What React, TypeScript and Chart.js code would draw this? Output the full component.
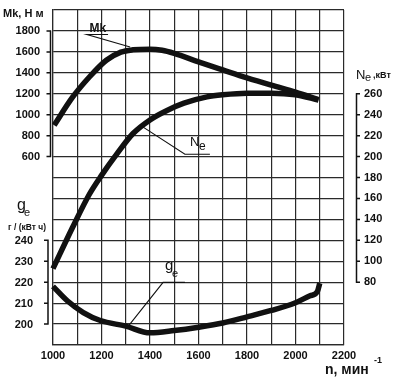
import React, { useEffect, useRef } from 'react';
import { Chart, registerables } from 'chart.js';

Chart.register(...registerables);

// ---- data ----
const rpmMk = [1005, 1080, 1150, 1220, 1280, 1330, 1400, 1450, 1500, 1600, 1700, 1800, 1900, 2000, 2095];
const torqueMk = [900, 1165, 1360, 1520, 1598, 1620, 1626, 1615, 1585, 1505, 1428, 1352, 1282, 1215, 1145];

const rpmNe = [1000, 1080, 1150, 1200, 1265, 1330, 1400, 1470, 1540, 1635, 1700, 1800, 1900, 2000, 2095];
const powerNe = [93, 132, 164, 182, 203, 222, 235, 244, 251, 257, 259, 260.5, 260.5, 259, 254];

const rpmGe = [1000, 1060, 1125, 1195, 1300, 1400, 1500, 1600, 1700, 1800, 1900, 2000, 2060, 2090, 2100];
const fuelGe = [218, 211, 205.5, 201.7, 199, 195.8, 196.9, 198.5, 200.5, 203.4, 206.5, 210.2, 213.5, 215.5, 219.5];

const xTickLabels = [1000, 1200, 1400, 1600, 1800, 2000, 2200];
const mkTickLabels = [600, 800, 1000, 1200, 1400, 1600, 1800];
const neTickLabels = [80, 100, 120, 140, 160, 180, 200, 220, 240, 260];
const geTickLabels = [200, 210, 220, 230, 240];

// curve name annotations, in data units: [rpm, value]
const mkLabelAt = [1185, 1789];
const mkUnderline = [[1140, 1766], [1227, 1766]];
const mkLeaderEnd = [1318, 1646];

const neLabelAt = [1565, 209.8];
const neSubAt = [1602, 206];
const neUnderline = [[1544, 202.2], [1647, 202.2]];
const neLeaderEnd = [1359, 230];

const geLabelAt = [1462, 225.6];
const geSubAt = [1491, 222.7];
const geUnderline = [[1454, 219.9], [1544, 219.9]];
const geLeaderEnd = [1309, 198.8];

const INK = '#111';
const GRID = '#2a2a2a';
const FONT = '"Liberation Sans", Arial, sans-serif';

const noPad = (s: any) => {
  s.paddingTop = 0;
  s.paddingBottom = 0;
  s.paddingLeft = 0;
  s.paddingRight = 0;
};

const decor = {
  id: 'decor',
  afterDraw(chart: any) {
    const ctx = chart.ctx as CanvasRenderingContext2D;
    const { x, yMk, yNe, yGe } = chart.scales;
    const area = chart.chartArea;
    ctx.save();
    ctx.strokeStyle = INK;
    ctx.fillStyle = INK;
    ctx.lineWidth = 1.5;

    // Mk bracket (left)
    const mkX = area.left - 2.5;
    ctx.beginPath();
    ctx.moveTo(mkX, yMk.getPixelForValue(mkTickLabels[mkTickLabels.length - 1]));
    ctx.lineTo(mkX, yMk.getPixelForValue(mkTickLabels[0]));
    mkTickLabels.forEach((v) => {
      const py = yMk.getPixelForValue(v);
      ctx.moveTo(mkX - 4, py);
      ctx.lineTo(mkX + 0.7, py);
    });
    ctx.stroke();

    // ge bracket (left, lower)
    const geX = area.left - 5;
    ctx.beginPath();
    ctx.moveTo(geX, yGe.getPixelForValue(geTickLabels[geTickLabels.length - 1]));
    ctx.lineTo(geX, yGe.getPixelForValue(geTickLabels[0]));
    geTickLabels.forEach((v) => {
      const py = yGe.getPixelForValue(v);
      ctx.moveTo(geX - 4, py);
      ctx.lineTo(geX + 0.7, py);
    });
    ctx.stroke();
    ctx.font = `bold 11px ${FONT}`;
    ctx.textAlign = 'right';
    ctx.textBaseline = 'middle';
    geTickLabels.forEach((v) => {
      ctx.fillText(String(v), area.left - 20, yGe.getPixelForValue(v) + 1);
    });

    // Ne bracket (right)
    const neX = area.right + 12.5;
    ctx.beginPath();
    ctx.moveTo(neX, yNe.getPixelForValue(neTickLabels[neTickLabels.length - 1]));
    ctx.lineTo(neX, yNe.getPixelForValue(neTickLabels[0]));
    neTickLabels.forEach((v) => {
      const py = yNe.getPixelForValue(v);
      ctx.moveTo(neX - 0.7, py);
      ctx.lineTo(neX + 3.5, py);
    });
    ctx.stroke();

    // axis titles
    ctx.textAlign = 'left';
    ctx.textBaseline = 'alphabetic';
    ctx.font = `bold 11px ${FONT}`;
    ctx.fillText('Mk, Н м', 3, 17);

    ctx.font = `16px ${FONT}`;
    ctx.fillText('g', 17, 210);
    ctx.font = `11px ${FONT}`;
    ctx.fillText('e', 24, 216);
    ctx.font = `bold 8.5px ${FONT}`;
    ctx.fillText('г / (кВт ч)', 8, 230);

    ctx.font = `13px ${FONT}`;
    ctx.fillText('N', 356, 79);
    ctx.font = `11px ${FONT}`;
    ctx.fillText('e', 365, 81);
    ctx.font = `bold 9px ${FONT}`;
    ctx.fillText(',кВт', 373, 78);

    ctx.font = `bold 14px ${FONT}`;
    ctx.fillText('n, мин', 325, 374);
    ctx.font = `bold 9px ${FONT}`;
    ctx.fillText('-1', 374, 363);

    // curve annotations
    const P = (s: any, p: number[]) => [x.getPixelForValue(p[0]), s.getPixelForValue(p[1])];
    const leader = (s: any, ul: number[][], end: number[]) => {
      const a = P(s, ul[0]);
      const b = P(s, ul[1]);
      const e = P(s, end);
      ctx.lineWidth = 1.1;
      ctx.beginPath();
      ctx.moveTo(b[0], b[1]);
      ctx.lineTo(a[0], a[1]);
      ctx.lineTo(e[0], e[1]);
      ctx.stroke();
    };

    ctx.font = `bold 12px ${FONT}`;
    let t = P(yMk, mkLabelAt);
    ctx.textAlign = 'center';
    ctx.fillText('Mk', t[0], t[1]);
    leader(yMk, mkUnderline, mkLeaderEnd);

    ctx.textAlign = 'left';
    ctx.font = `13px ${FONT}`;
    t = P(yNe, neLabelAt);
    ctx.fillText('N', t[0], t[1]);
    ctx.font = `12px ${FONT}`;
    t = P(yNe, neSubAt);
    ctx.fillText('e', t[0], t[1]);
    leader(yNe, neUnderline, neLeaderEnd);

    ctx.font = `15px ${FONT}`;
    t = P(yGe, geLabelAt);
    ctx.fillText('g', t[0], t[1]);
    ctx.font = `11px ${FONT}`;
    t = P(yGe, geSubAt);
    ctx.fillText('e', t[0], t[1]);
    leader(yGe, geUnderline, geLeaderEnd);

    ctx.restore();
  },
};

const lineStyle = {
  borderColor: INK,
  borderWidth: 5.5,
  pointRadius: 0,
  fill: false,
  cubicInterpolationMode: 'monotone' as const,
  borderCapStyle: 'butt' as const,
  borderJoinStyle: 'round' as const,
  clip: false as any,
};

export default function App() {
  const ref = useRef<HTMLCanvasElement | null>(null);

  useEffect(() => {
    if (!ref.current) return;
    const chart = new Chart(ref.current, {
      type: 'line',
      data: {
        datasets: [
          { ...lineStyle, label: 'Mk', yAxisID: 'yMk', data: rpmMk.map((r, i) => ({ x: r, y: torqueMk[i] })) },
          { ...lineStyle, label: 'Ne', yAxisID: 'yNe', data: rpmNe.map((r, i) => ({ x: r, y: powerNe[i] })) },
          { ...lineStyle, label: 'ge', yAxisID: 'yGe', data: rpmGe.map((r, i) => ({ x: r, y: fuelGe[i] })) },
        ],
      },
      options: {
        responsive: false,
        animation: false,
        devicePixelRatio: 1,
        layout: { autoPadding: false, padding: { top: 10, left: 0, right: 0, bottom: 0 } },
        plugins: { legend: { display: false }, tooltip: { enabled: false } },
        scales: {
          x: {
            type: 'linear',
            min: 1000,
            max: 2200,
            ticks: {
              stepSize: 100,
              autoSkip: false,
              maxRotation: 0,
              padding: 4,
              color: INK,
              font: { family: FONT, size: 11, weight: 'bold' },
              callback: (v: any) => (xTickLabels.includes(Number(v)) ? String(v) : ''),
            },
            grid: { color: GRID, lineWidth: 1.2, drawTicks: false },
            border: { display: true, color: GRID, width: 1.2 },
            afterFit: (s: any) => { s.height = 33; noPad(s); },
          },
          yMk: {
            type: 'linear',
            position: 'left',
            min: -1200,
            max: 2000,
            ticks: {
              stepSize: 200,
              autoSkip: false,
              padding: 13,
              color: INK,
              font: { family: FONT, size: 11, weight: 'bold' },
              callback: (v: any) => (mkTickLabels.includes(Number(v)) ? String(v) : ''),
            },
            grid: { color: GRID, lineWidth: 1.2, drawTicks: false },
            border: { display: true, color: GRID, width: 1.2 },
            afterFit: (s: any) => { s.width = 53; noPad(s); },
          },
          yNe: {
            type: 'linear',
            position: 'right',
            min: 20,
            max: 340,
            ticks: {
              stepSize: 20,
              autoSkip: false,
              padding: 20,
              color: INK,
              font: { family: FONT, size: 11, weight: 'bold' },
              callback: (v: any) => (neTickLabels.includes(Number(v)) ? String(v) : ''),
            },
            grid: { display: false, drawTicks: false },
            border: { display: false },
            afterFit: (s: any) => { s.width = 57; noPad(s); },
          },
          yGe: {
            type: 'linear',
            display: false,
            min: 190,
            max: 350,
          },
        },
      },
      plugins: [decor],
    });
    return () => chart.destroy();
  }, []);

  return (
    <div style={{ position: 'fixed', left: 0, top: 0, width: 401, height: 378, background: '#fff' }}>
      <canvas ref={ref} width={401} height={378} style={{ display: 'block' }} />
    </div>
  );
}
